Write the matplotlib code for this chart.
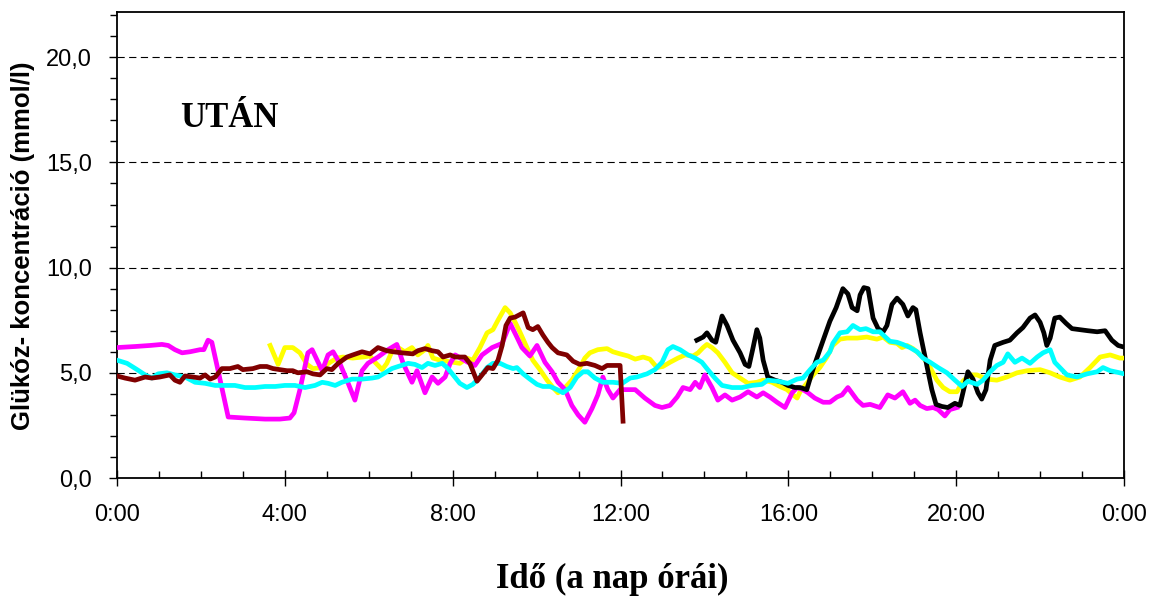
import matplotlib
matplotlib.use("Agg")
import matplotlib.pyplot as plt
from matplotlib.ticker import MultipleLocator, FuncFormatter

# Glucose readings, time in hours of the day, concentration in mmol/l
magenta_t = [0.0, 0.43, 0.79, 1.07, 1.22, 1.38, 1.55, 1.74, 1.98, 2.07, 2.17, 2.26, 2.41, 2.65,
             3.05, 3.53, 3.88, 4.12, 4.22, 4.36, 4.55, 4.65, 4.77, 4.89, 5.03, 5.15, 5.31, 5.51,
             5.67, 5.84, 5.98, 6.22, 6.46, 6.67, 6.82, 7.03, 7.15, 7.34, 7.51, 7.65, 7.82, 7.94,
             8.06, 8.36, 8.53, 8.7, 8.94, 9.18, 9.37, 9.53, 9.65, 9.84, 10.01, 10.2, 10.37, 10.51,
             10.68, 10.84, 10.99, 11.15, 11.32, 11.46, 11.58, 11.7, 11.82, 11.99, 12.18, 12.35,
             12.58, 12.82, 12.99, 13.18, 13.35, 13.49, 13.66, 13.78, 13.89, 14.01, 14.18, 14.32,
             14.49, 14.66, 14.85, 15.04, 15.25, 15.4, 15.56, 15.73, 15.92, 16.09, 16.21, 16.35,
             16.47, 16.63, 16.83, 16.99, 17.16, 17.28, 17.42, 17.64, 17.78, 17.95, 18.18, 18.37,
             18.54, 18.73, 18.9, 19.02, 19.14, 19.3, 19.45, 19.57, 19.73, 19.85, 20.02]
magenta_v = [6.2, 6.25, 6.3, 6.35, 6.3, 6.1, 5.95, 6.0, 6.1, 6.1, 6.55, 6.45, 5.1, 2.9,
             2.85, 2.8, 2.8, 2.85, 3.1, 4.2, 5.95, 6.1, 5.6, 5.1, 5.85, 6.0, 5.45, 4.5,
             3.7, 5.1, 5.45, 5.75, 6.1, 6.35, 5.45, 4.55, 5.1, 4.05, 4.8, 4.5, 4.8, 5.45,
             5.85, 5.5, 5.35, 5.85, 6.2, 6.4, 7.35, 6.7, 6.2, 5.8, 6.3, 5.5, 5.05, 4.55,
             4.2, 3.45, 3.0, 2.65, 3.3, 3.95, 4.8, 4.2, 3.8, 4.2, 4.2, 4.2,
             3.8, 3.45, 3.35, 3.45, 3.85, 4.3, 4.2, 4.55, 4.3, 4.9, 4.3, 3.7,
             3.95, 3.7, 3.85, 4.1, 3.85, 4.05, 3.85, 3.6, 3.35, 4.05, 4.3, 4.2,
             4.05, 3.8, 3.6, 3.6, 3.85, 3.95, 4.3, 3.7, 3.45, 3.5, 3.35, 3.95,
             3.8, 4.1, 3.55, 3.7, 3.45, 3.3, 3.35, 3.25, 2.95, 3.25, 3.35]

yellow_t = [3.65, 3.84, 4.0, 4.19, 4.36, 4.53, 4.67, 4.89, 5.08, 5.24, 5.39, 5.62, 5.86, 6.03,
            6.15, 6.32, 6.43, 6.55, 6.7, 6.86, 7.03, 7.17, 7.34, 7.41, 7.53, 7.7, 7.86, 8.01,
            8.17, 8.34, 8.48, 8.65, 8.82, 8.96, 9.08, 9.25, 9.37, 9.49, 9.6, 9.77, 9.91, 10.08,
            10.25, 10.39, 10.51, 10.68, 10.84, 11.03, 11.15, 11.27, 11.46, 11.68, 11.82, 11.99,
            12.18, 12.35, 12.54, 12.7, 12.87, 13.01, 13.18, 13.37, 13.54, 13.73, 13.85, 13.97,
            14.06, 14.18, 14.32, 14.49, 14.66, 14.85, 15.04, 15.25, 15.4, 15.61, 15.8, 15.97,
            16.11, 16.21, 16.28, 16.44, 16.59, 16.75, 16.92, 17.06, 17.23, 17.4, 17.64, 17.87,
            18.11, 18.26, 18.42, 18.59, 18.71, 18.83, 18.97, 19.21, 19.38, 19.54, 19.69, 19.85,
            20.02, 20.16, 20.33, 20.5, 20.73, 20.97, 21.21, 21.45, 21.69, 22.0, 22.24, 22.47,
            22.71, 22.95, 23.19, 23.43, 23.67, 23.9, 23.97]
yellow_v = [6.3, 5.4, 6.2, 6.2, 5.95, 5.4, 5.2, 5.25, 5.5, 5.7, 5.75, 5.7, 5.75, 5.8,
            5.5, 5.15, 5.45, 6.0, 6.2, 6.0, 6.2, 5.85, 6.1, 6.3, 5.7, 5.6, 5.55, 5.5,
            5.45, 5.7, 5.6, 6.2, 6.9, 7.05, 7.5, 8.1, 7.85, 7.4, 6.95, 6.2, 5.6, 5.15,
            4.65, 4.3, 4.05, 4.3, 4.65, 5.25, 5.7, 5.95, 6.1, 6.15, 6.0, 5.9,
            5.8, 5.65, 5.75, 5.65, 5.25, 5.3, 5.5, 5.7, 5.85, 5.8, 5.95, 6.2,
            6.35, 6.2, 5.95, 5.5, 5.0, 4.75, 4.5, 4.55, 4.65, 4.55, 4.35, 4.2,
            3.95, 3.8, 4.1, 4.5, 4.9, 5.25, 5.75, 6.3, 6.6, 6.65, 6.65, 6.7,
            6.6, 6.7, 6.45, 6.4, 6.2, 6.3, 6.15, 5.75, 5.25, 4.65, 4.3, 4.1,
            4.1, 4.6, 4.9, 4.9, 4.7, 4.65, 4.8, 5.0, 5.1, 5.15, 5.0, 4.8,
            4.65, 4.8, 5.25, 5.75, 5.85, 5.7, 5.7]

cyan_t = [0.0, 0.24, 0.48, 0.67, 0.83, 0.98, 1.19, 1.38, 1.62, 1.86, 2.1, 2.34, 2.57, 2.81,
          3.05, 3.29, 3.53, 3.77, 4.0, 4.24, 4.48, 4.72, 4.89, 5.03, 5.2, 5.36, 5.6, 5.84,
          6.08, 6.22, 6.39, 6.55, 6.7, 6.94, 7.1, 7.27, 7.41, 7.58, 7.75, 7.89, 8.01, 8.17,
          8.34, 8.48, 8.65, 8.82, 8.96, 9.13, 9.29, 9.44, 9.53, 9.68, 9.84, 10.01, 10.15,
          10.32, 10.49, 10.63, 10.8, 10.96, 11.11, 11.22, 11.39, 11.58, 11.82, 12.04, 12.23,
          12.39, 12.63, 12.82, 12.99, 13.13, 13.25, 13.42, 13.61, 13.78, 13.94, 14.08, 14.25,
          14.42, 14.66, 14.9, 15.13, 15.37, 15.51, 15.75, 15.99, 16.21, 16.35, 16.52, 16.68,
          16.83, 16.99, 17.06, 17.23, 17.4, 17.54, 17.71, 17.85, 18.02, 18.18, 18.42, 18.59,
          18.73, 18.9, 19.07, 19.21, 19.38, 19.57, 19.78, 19.97, 20.14, 20.28, 20.5, 20.64,
          20.81, 20.97, 21.12, 21.23, 21.4, 21.57, 21.76, 21.93, 22.07, 22.24, 22.35, 22.47,
          22.64, 22.88, 23.12, 23.36, 23.5, 23.67, 23.9, 24.0]
cyan_v = [5.6, 5.45, 5.15, 4.9, 4.75, 4.95, 5.0, 4.9, 4.8, 4.55, 4.5, 4.4, 4.4, 4.4,
          4.3, 4.3, 4.35, 4.35, 4.4, 4.4, 4.3, 4.4, 4.55, 4.5, 4.4, 4.55, 4.7, 4.7,
          4.75, 4.8, 5.0, 5.2, 5.3, 5.45, 5.4, 5.25, 5.45, 5.35, 5.45, 5.2, 4.9, 4.5,
          4.3, 4.45, 4.8, 5.25, 5.45, 5.45, 5.3, 5.2, 5.25, 4.95, 4.7, 4.45, 4.35,
          4.35, 4.2, 4.05, 4.3, 4.8, 5.05, 5.05, 4.75, 4.55, 4.55, 4.5, 4.75,
          4.8, 4.95, 5.15, 5.5, 6.1, 6.25, 6.1, 5.85, 5.7, 5.5, 5.15, 4.75,
          4.4, 4.3, 4.3, 4.4, 4.45, 4.65, 4.6, 4.5, 4.7, 4.75, 5.15, 5.5,
          5.6, 6.0, 6.4, 6.9, 6.95, 7.25, 7.05, 7.1, 6.95, 6.95, 6.5, 6.45,
          6.35, 6.2, 6.0, 5.7, 5.5, 5.25, 5.0, 4.65, 4.35, 4.6, 4.45, 4.65,
          5.05, 5.35, 5.5, 5.9, 5.5, 5.7, 5.45, 5.75, 5.95, 6.1, 5.5, 5.25,
          4.9, 4.8, 4.95, 5.05, 5.25, 5.1, 5.0, 4.95]

maroon_t = [0.0, 0.19, 0.43, 0.67, 0.83, 1.02, 1.26, 1.38, 1.5, 1.62, 1.81, 1.98, 2.1, 2.22,
            2.34, 2.5, 2.69, 2.88, 3.0, 3.24, 3.41, 3.57, 3.72, 4.05, 4.19, 4.31, 4.53, 4.67,
            4.84, 5.0, 5.12, 5.27, 5.48, 5.62, 5.84, 6.03, 6.22, 6.43, 6.58, 6.79, 7.05, 7.17,
            7.34, 7.51, 7.65, 7.77, 7.94, 8.06, 8.29, 8.41, 8.58, 8.7, 8.84, 8.96, 9.08, 9.18,
            9.27, 9.37, 9.49, 9.68, 9.8, 9.91, 10.03, 10.15, 10.27, 10.37, 10.51, 10.72, 10.87,
            11.03, 11.2, 11.39, 11.56, 11.68, 11.82, 11.99, 12.06]
maroon_v = [4.85, 4.75, 4.65, 4.8, 4.75, 4.8, 4.9, 4.65, 4.55, 4.85, 4.8, 4.75, 4.9, 4.7,
            4.8, 5.2, 5.2, 5.3, 5.15, 5.2, 5.3, 5.3, 5.2, 5.1, 5.1, 5.0, 5.05, 4.95,
            4.9, 5.2, 5.15, 5.45, 5.75, 5.85, 6.0, 5.9, 6.2, 6.05, 6.0, 5.95, 5.9, 6.05,
            6.15, 6.05, 6.0, 5.75, 5.85, 5.75, 5.75, 5.45, 4.6, 4.9, 5.25, 5.2, 5.6, 6.3,
            7.25, 7.6, 7.65, 7.85, 7.15, 7.05, 7.2, 6.8, 6.45, 6.2, 5.95, 5.85, 5.55,
            5.4, 5.45, 5.35, 5.2, 5.35, 5.35, 5.35, 2.7]

black_t = [13.82, 13.97, 14.06, 14.18, 14.27, 14.42, 14.54, 14.68, 14.85, 14.97, 15.06, 15.16,
           15.25, 15.32, 15.4, 15.51, 15.68, 15.85, 15.99, 16.16, 16.28, 16.44, 16.56, 16.68,
           16.83, 16.99, 17.14, 17.3, 17.42, 17.52, 17.64, 17.71, 17.8, 17.9, 18.02, 18.14,
           18.26, 18.35, 18.47, 18.59, 18.73, 18.85, 18.97, 19.04, 19.14, 19.3, 19.42, 19.52,
           19.66, 19.8, 19.97, 20.09, 20.19, 20.28, 20.4, 20.52, 20.61, 20.71, 20.81, 20.92,
           21.12, 21.28, 21.45, 21.59, 21.76, 21.88, 22.0, 22.09, 22.16, 22.24, 22.35, 22.47,
           22.62, 22.76, 22.95, 23.14, 23.36, 23.55, 23.71, 23.86, 23.95]
black_v = [6.55, 6.7, 6.9, 6.55, 6.45, 7.7, 7.25, 6.55, 5.95, 5.4, 5.3, 6.2,
           7.05, 6.65, 5.6, 4.8, 4.65, 4.55, 4.4, 4.3, 4.3, 4.2, 5.0, 5.7,
           6.55, 7.45, 8.1, 9.0, 8.75, 8.1, 7.95, 8.7, 9.05, 9.0, 7.6, 7.1,
           6.95, 7.25, 8.25, 8.55, 8.25, 7.7, 8.1, 8.0, 6.9, 5.35, 4.2, 3.5,
           3.4, 3.35, 3.55, 3.45, 4.3, 5.05, 4.7, 4.05, 3.75, 4.2, 5.6, 6.3,
           6.45, 6.55, 6.9, 7.15, 7.6, 7.75, 7.4, 6.9, 6.3, 6.65, 7.6, 7.65,
           7.35, 7.1, 7.05, 7.0, 6.95, 7.0, 6.55, 6.3, 6.25]

hour_ticks = [0, 4, 8, 12, 16, 20, 24]
hour_labels = ["0:00", "4:00", "8:00", "12:00", "16:00", "20:00", "0:00"]

sans = ["Liberation Sans", "Arial", "DejaVu Sans"]
serif = ["Liberation Serif", "Times New Roman", "DejaVu Serif"]

fig = plt.figure(figsize=(11.55, 5.97), dpi=100)
ax = fig.add_axes([117 / 1155, 119 / 597, 1007 / 1155, 466 / 597])

lw = 3.4
ax.plot(yellow_t, yellow_v, color="#FFFF00", lw=lw, solid_joinstyle="round", zorder=3)
ax.plot(magenta_t, magenta_v, color="#FF00FF", lw=lw, solid_joinstyle="round", zorder=4)
ax.plot(black_t, black_v, color="#000000", lw=lw, solid_joinstyle="round", zorder=5)
ax.plot(cyan_t, cyan_v, color="#00FFFF", lw=lw, solid_joinstyle="round", zorder=6)
ax.plot(maroon_t, maroon_v, color="#800000", lw=lw, solid_joinstyle="round", zorder=7)

ax.set_xlim(0, 24)
ax.set_ylim(0, 22.15)

# dashed reference lines at the labelled concentrations
for yv in (5, 10, 15, 20):
    ax.axhline(yv, color="#000000", lw=0.8, linestyle=(0, (6.5, 4.0)), zorder=1)

ax.set_xticks(hour_ticks)
ax.set_xticklabels(hour_labels)
ax.xaxis.set_minor_locator(MultipleLocator(1))
ax.yaxis.set_major_locator(MultipleLocator(5))
ax.yaxis.set_minor_locator(MultipleLocator(1))
ax.yaxis.set_major_formatter(FuncFormatter(lambda v, p: f"{v:.1f}".replace(".", ",")))

ax.tick_params(axis="x", which="major", direction="inout", length=12, width=1.0,
               pad=13, labelsize=17)
ax.tick_params(axis="x", which="minor", direction="in", length=5, width=1.0)
ax.tick_params(axis="y", which="major", direction="out", length=6, width=1.0,
               pad=12, labelsize=17)
ax.tick_params(axis="y", which="minor", direction="out", length=5, width=1.0)
for lab in ax.get_xticklabels() + ax.get_yticklabels():
    lab.set_fontfamily(sans)

for sp in ax.spines.values():
    sp.set_linewidth(1.3)
    sp.set_color("#000000")

ax.text((180 - 117) / 1007, (478 - 127) / 466, "UTÁN", transform=ax.transAxes,
        ha="left", va="baseline", fontsize=25, fontweight="bold", family=serif)

fig.text(23 / 1155, 1 - 246 / 597, "Glükóz- koncentráció (mmol/l)", rotation=90,
         ha="center", va="center", fontsize=18.5, fontweight="bold", family=sans)
fig.text(612 / 1155, 1 - 588 / 597, "Idő (a nap órái)", ha="center", va="baseline",
         fontsize=25, fontweight="bold", family=serif)

fig.savefig("out.png", dpi=100)
